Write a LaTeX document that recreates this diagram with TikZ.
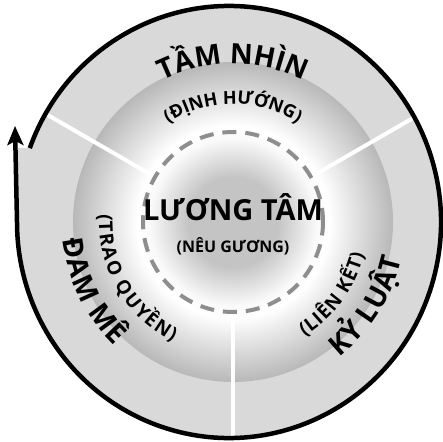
\documentclass[tikz,border=0pt]{standalone}
\usepackage{fontspec}
\setmainfont{Open Sans}
\usepackage{tikz}
\usetikzlibrary{decorations,decorations.text}
\usetikzlibrary{arrows.meta}
\usepackage{xcolor}
\definecolor{ringgray}{HTML}{D9D9D9}
\definecolor{dashgray}{HTML}{8E8E8E}
\definecolor{lensmid}{HTML}{C4C4C4}
\definecolor{lensedge}{HTML}{B8B8B8}
\pgfdeclareradialshading{lens}{\pgfpointorigin}{color(0bp)=(lensmid); color(7bp)=(lensmid); color(13bp)=(white!90!lensmid); color(15bp)=(white); color(25bp)=(lensedge); color(50bp)=(lensedge)}
\newcommand\ringbig{\bfseries\fontsize{28}{30}\selectfont}
\newcommand\ringmid{\bfseries\fontsize{18}{20}\selectfont}
\newcommand\ringside{\bfseries\fontsize{19}{21}\selectfont}
\newcommand\ringsmall{\bfseries\fontsize{16}{18}\selectfont}
\tikzstyle{ring}=[fill=ringgray]
\tikzstyle{rim}=[line width=4.5pt, draw=black, -{Stealth[length=19pt,width=16pt,inset=4pt]}]
\tikzstyle{divider}=[line width=4pt, draw=white]
\tikzstyle{core}=[line width=4pt, draw=dashgray, dash pattern=on 14pt off 9pt]
\tikzset{ringtext/.style={decorate, decoration={text along path, text align=center, text={#1}}}}

\begin{document}
\begin{tikzpicture}[x=1pt,y=1pt]
\useasboundingbox (-233,-219) rectangle (210,222);
\coordinate (c) at (0,0);
\coordinate (start) at ([shift={(-4,0)}]160:212pt and 216pt);
\coordinate (tip) at (-218,96);
\fill[ring] (start) arc[start angle=160, end angle=-180, x radius=212pt, y radius=216pt] -- (-217,74) -- cycle;
\shade[shading=lens] (c) circle[radius=160pt];
\foreach \a in {30,150,270} {
	\coordinate (in\a) at (\a:90pt);
	\coordinate (out\a) at (\a:214pt);
	\draw[divider] (in\a) -- (out\a);
}
\draw[core] (c) circle[radius=90pt];
\draw[rim] (start) arc[start angle=160, end angle=-180, x radius=212pt, y radius=216pt] -- (tip);
\path[ringtext={|\ringbig|TẦM NHÌN}] (150:158pt) arc[start angle=150, end angle=30, radius=158pt];
\path[ringtext={|\ringmid|(ĐỊNH HƯỚNG)}] (150:118pt) arc[start angle=150, end angle=30, radius=118pt];
\path[ringtext={|\ringbig|ĐAM MÊ}, decoration={raise=-8pt}] (146:163pt) arc[start angle=146, end angle=266, radius=163pt];
\path[ringtext={|\ringside|(TRAO QUYỀN)}, decoration={raise=-17pt}] (150:117pt) arc[start angle=150, end angle=270, radius=117pt];
\path[ringtext={|\ringbig|KỶ LUẬT}, decoration={raise=-5pt}] (-92:167pt) arc[start angle=-92, end angle=28, radius=167pt];
\path[ringtext={|\ringside|(LIÊN KẾT)}, decoration={raise=-12pt}] (-96:123pt) arc[start angle=-96, end angle=24, radius=123pt];
\node[anchor=base, font=\bfseries\fontsize{29}{31}\selectfont] (luongtam) at (0,2) {LƯƠNG TÂM};
\node[anchor=base, font=\ringsmall] (neuguong) at (0,-30) {(NÊU GƯƠNG)};
\end{tikzpicture}
\end{document}
